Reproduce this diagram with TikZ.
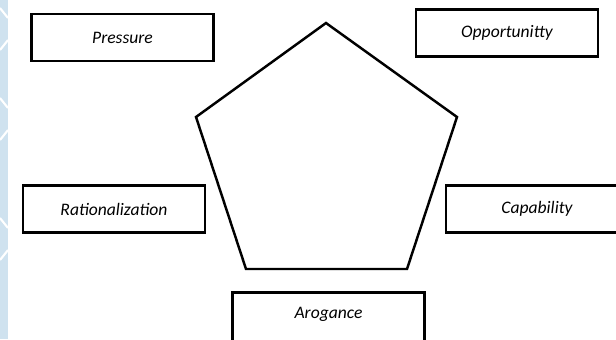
\documentclass[tikz,border=0pt]{standalone}
\usepackage{fontspec}
\setmainfont{Carlito}
\usetikzlibrary{positioning}
\definecolor{bgbl}{HTML}{CFE2EF}

\begin{document}
\begin{tikzpicture}[x=0.02cm,y=-0.02cm,font=\fontsize{10}{12}\selectfont\itshape,
  fac/.style={draw=black,line width=1.4pt,fill=white,minimum width=3.64cm,
              minimum height=0.94cm,inner sep=2pt},
  pent/.style={draw=black,line width=1.4pt,line join=miter}]

% ---------------- page and left strip --------------------------------------
\useasboundingbox (0,0) rectangle (616,339);
\clip (0,0) rectangle (616,339);
\fill[white] (0,0) rectangle (616,339);
\fill[bgbl] (0,0) rectangle (8,339);
\foreach \y in {8,98,218}
  \draw[white,line width=1.2pt] (0,\y) -- (8,\y+10);
\foreach \y in {40,130,250}
  \draw[white,line width=1.2pt] (0,\y+10) -- (8,\y);

% ---------------- pentagon --------------------------------------------------
\coordinate (top) at (326,23);
\coordinate (ur)  at (457,117);
\coordinate (lr)  at (407,269);
\coordinate (ll)  at (246,269);
\coordinate (ul)  at (196,117);
\draw[pent] (top) -- (ur) -- (lr) -- (ll) -- (ul) -- cycle;

% ---------------- the five factors -----------------------------------------
\node[fac] (press) at (122.5,37.5) {Pressure};
\node[fac] (opp)   at (507,33)     {Opportunitty};
\node[fac] (rat)   at (114,209)    {Rationalization};
\node[fac] (cap)   at (537,209)    {Capability};
\node[fac,minimum width=3.84cm,minimum height=1.1cm] (arog) at (328.5,320) {\raisebox{8pt}{Arogance}};

\end{tikzpicture}
\end{document}
